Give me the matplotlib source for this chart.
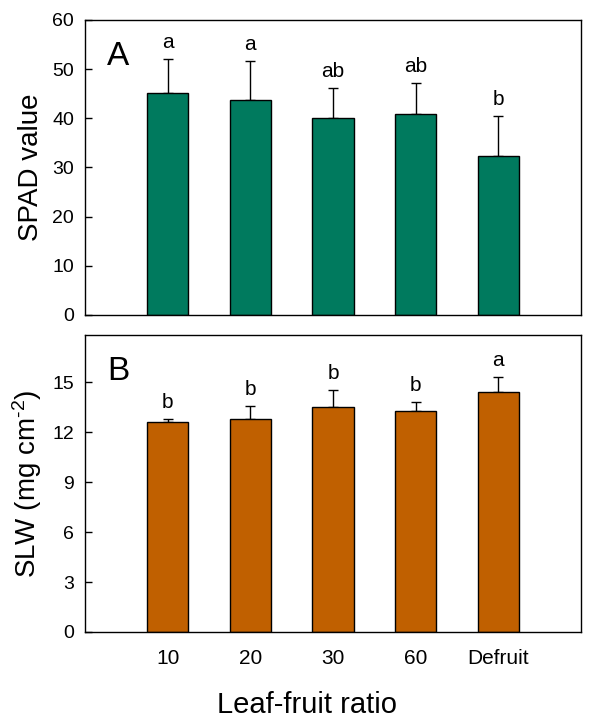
import matplotlib
matplotlib.use("Agg")
import matplotlib.pyplot as plt
import numpy as np

plt.rcParams['font.family'] = ['Liberation Sans', 'DejaVu Sans']
plt.rcParams['mathtext.fontset'] = 'custom'
plt.rcParams['mathtext.rm'] = 'Liberation Sans'
plt.rcParams['mathtext.it'] = 'Liberation Sans:italic'
plt.rcParams['mathtext.bf'] = 'Liberation Sans:bold'

categories = ["10", "20", "30", "60", "Defruit"]
spad_mean = [45.2, 43.8, 40.1, 40.9, 32.4]
spad_err = [6.9, 7.9, 6.1, 6.3, 8.1]
spad_letters = ["a", "a", "ab", "ab", "b"]
slw_mean = [12.6, 12.8, 13.5, 13.27, 14.42]
slw_err = [0.2, 0.78, 1.03, 0.55, 0.88]
slw_letters = ["b", "b", "b", "b", "a"]

green = "#007A5E"
orange = "#C06000"

fig = plt.figure(figsize=(5.89, 7.27), dpi=100)
L, R = 85/589, 581/589
axA = fig.add_axes([L, 1-315/727, R-L, (315-20)/727])
axB = fig.add_axes([L, 1-632/727, R-L, (632-335)/727])

x = np.arange(1, len(categories)+1)

def panel(ax, mean, err, letters, color, ylim, yticks, label, panel_letter):
    ax.bar(x, mean, width=0.5, color=color, edgecolor='black', linewidth=1.0, zorder=2)
    ax.errorbar(x, mean, yerr=[np.zeros(len(err)), err], fmt='none', ecolor='black',
                elinewidth=1.0, capsize=3.8, capthick=1.0, zorder=1)
    for xi, m, e, t in zip(x, mean, err, letters):
        ax.annotate(t, (xi, m+e), xytext=(0, 8), textcoords='offset points',
                    ha='center', va='baseline', fontsize=15)
    ax.set_xlim(0, 6)
    ax.set_ylim(*ylim)
    ax.set_yticks(yticks)
    ax.tick_params(axis='y', direction='in', length=5, width=1, labelsize=14, pad=8)
    ax.tick_params(axis='x', length=0)
    for s in ax.spines.values():
        s.set_linewidth(1.0)
    ax.set_ylabel(label, fontsize=20, labelpad=6)
    ax.text(0.045, 0.93, panel_letter, transform=ax.transAxes, fontsize=24, va='top', ha='left')

panel(axA, spad_mean, spad_err, spad_letters, green, (0, 60), range(0, 61, 10),
      "SPAD value", "A")
axA.set_xticks([])

panel(axB, slw_mean, slw_err, slw_letters, orange, (0, 17.85), range(0, 16, 3),
      r"SLW (mg cm$^{\text{-}2}$)", "B")
axB.set_xticks(x)
axB.set_xticklabels(categories, fontsize=15)
axB.tick_params(axis='x', pad=12)
axB.set_xlabel("Leaf-fruit ratio", fontsize=21, labelpad=13)
axB.xaxis.set_label_coords((307-85)/496, -0.2)
axB.xaxis.label.set_verticalalignment('center')
axB.xaxis.set_label_coords((307-85)/496, -(705-632)/297)

fig.align_ylabels([axA, axB])
fig.savefig("out.png", dpi=100)
